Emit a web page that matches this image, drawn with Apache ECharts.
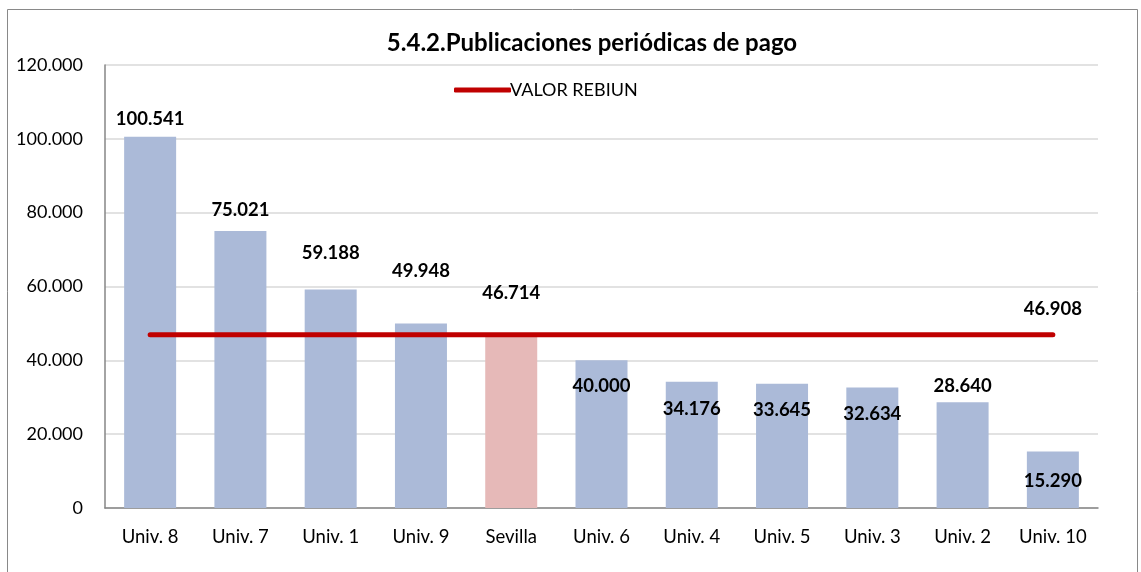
<!DOCTYPE html>
<html>
<head>
<meta charset="utf-8">
<script src="https://cdn.jsdelivr.net/npm/echarts@6/dist/echarts.min.js"></script>
<style>
  html, body { margin: 0; padding: 0; background: #fff; }
  #chart { width: 1141px; height: 572px; }
</style>
</head>
<body>
<div id="chart"></div>
<script>
// datos
var categories = ['Univ. 8', 'Univ. 7', 'Univ. 1', 'Univ. 9', 'Sevilla', 'Univ. 6', 'Univ. 4', 'Univ. 5', 'Univ. 3', 'Univ. 2', 'Univ. 10'];
var values = [100541, 75021, 59188, 49948, 46714, 40000, 34176, 33645, 32634, 28640, 15290];
var rebiun = 46908;
var yTicks = [0, 20000, 40000, 60000, 80000, 100000, 120000];

// desplazamiento vertical de cada etiqueta (como en Excel)
var labelShift = [-3, -7, -22, -38, -28, 40, 42, 41, 41, -2, 44];

function fmt(v) {
    return String(v).replace(/\B(?=(\d{3})+(?!\d))/g, '.');
}

var font = 'Lato, "Noto Sans", sans-serif';
var myChart = echarts.init(document.getElementById('chart'));

var barData = values.map(function (v, i) {
    return {
        value: v,
        itemStyle: { color: categories[i] === 'Sevilla' ? '#e6b9b8' : '#abbad8' },
        label: { offset: [0, labelShift[i]] }
    };
});

var lineData = categories.map(function (c, i) {
    return {
        value: rebiun,
        label: { show: i === categories.length - 1 }
    };
});

myChart.setOption({
    animation: false,
    backgroundColor: '#fff',
    textStyle: { fontFamily: font },
    graphic: [{
        type: 'rect',
        shape: { x: 7.5, y: 9.5, width: 1130, height: 600 },
        style: { fill: 'none', stroke: '#898989', lineWidth: 1 }
    }],
    title: {
        text: '5.4.2.Publicaciones periódicas de pago',
        left: 587, top: 26, textAlign: 'center',
        textStyle: { fontFamily: font, fontSize: 24, fontWeight: 'bold', color: '#000' }
    },
    legend: {
        data: ['VALOR REBIUN'],
        left: 449, top: 76,
        itemWidth: 57, itemHeight: 5, itemGap: 4,
        icon: 'roundRect',
        textStyle: { fontFamily: font, fontSize: 18, color: '#000', padding: [0, 0, 0, -6] }
    },
    grid: { left: 105, right: 43, top: 65, bottom: 64 },
    xAxis: {
        type: 'category',
        data: categories,
        axisLine: { lineStyle: { color: '#868686', width: 1.5 } },
        axisTick: { show: false },
        axisLabel: { color: '#000', fontSize: 18.5, margin: 20, fontFamily: font }
    },
    yAxis: {
        type: 'value',
        min: yTicks[0], max: yTicks[yTicks.length - 1], interval: 20000,
        axisLine: { show: true, lineStyle: { color: '#868686', width: 1.5 } },
        axisTick: { show: false },
        splitLine: { lineStyle: { color: '#d9d9d9', width: 1.5 } },
        axisLabel: { color: '#000', fontSize: 18, margin: 22, fontFamily: font, formatter: fmt }
    },
    series: [
        {
            name: 'Valor',
            type: 'bar',
            barWidth: 52,
            data: barData,
            label: {
                show: true, position: 'top', distance: 5,
                color: '#000', fontSize: 18.5, fontWeight: 'bold', fontFamily: font,
                formatter: function (p) { return fmt(p.value); }
            }
        },
        {
            name: 'VALOR REBIUN',
            type: 'line',
            data: lineData,
            symbol: 'circle',
            symbolSize: 1,
            lineStyle: { color: '#c00000', width: 5, cap: 'round' },
            itemStyle: { color: '#c00000' },
            label: {
                position: 'top', distance: 16,
                color: '#000', fontSize: 18.5, fontWeight: 'bold', fontFamily: font,
                formatter: function (p) { return fmt(p.value); }
            }
        }
    ]
});
</script>
</body>
</html>
